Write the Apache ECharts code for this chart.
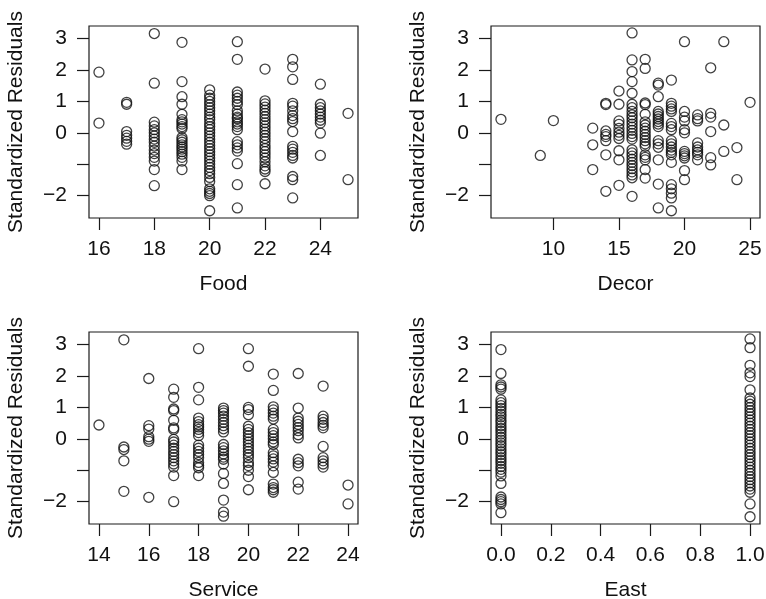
<!DOCTYPE html>
<html>
<head>
<meta charset="utf-8">
<script src="https://cdn.jsdelivr.net/npm/echarts@6/dist/echarts.min.js"></script>
<style>
html,body{margin:0;padding:0;background:#fff;}
#chart{width:766px;height:599px;}
</style>
</head>
<body>
<div id="chart"></div>
<script>
// Standardized residuals grouped by predictor value
const foodValues = [16,17,18,19,20,21,22,23,24,25];
const foodResid = [
  [1.93, 0.31],
  [0.97, 0.91, 0.04, -0.08, -0.17, -0.27, -0.36],
  [3.16, 1.58, 0.34, 0.22, 0.1, 0.0, -0.1, -0.2, -0.3, -0.42, -0.55, -0.66, -0.78, -0.9, -1.17, -1.68],
  [2.88, 1.63, 1.15, 0.91, 0.59, 0.42, 0.35, 0.28, 0.2, 0.14, -0.15, -0.22, -0.3, -0.38, -0.45, -0.52, -0.6, -0.68, -0.78, -0.9, -1.17],
  [1.37, 1.2, 1.1, 1.0, 0.9, 0.8, 0.7, 0.6, 0.5, 0.42, 0.3, 0.2, 0.1, 0.0, -0.1, -0.2, -0.3, -0.4, -0.5, -0.6, -0.7, -0.8, -0.9, -1.0, -1.1, -1.2, -1.3, -1.42, -1.55, -1.78, -1.86, -1.93, -2.0, -2.48],
  [2.9, 2.34, 1.3, 1.2, 1.1, 1.0, 0.9, 0.7, 0.6, 0.5, 0.45, 0.35, 0.28, 0.2, 0.1, -0.28, -0.38, -0.48, -0.58, -0.98, -1.65, -2.39],
  [2.03, 1.02, 0.92, 0.82, 0.72, 0.62, 0.52, 0.42, 0.32, 0.22, 0.12, 0.02, -0.08, -0.18, -0.28, -0.4, -0.5, -0.6, -0.7, -0.8, -0.92, -1.05, -1.15, -1.23, -1.62],
  [2.34, 2.1, 1.7, 0.94, 0.85, 0.7, 0.55, 0.45, 0.36, 0.04, -0.43, -0.52, -0.62, -0.72, -0.8, -1.39, -1.49, -2.07],
  [1.55, 0.91, 0.8, 0.7, 0.6, 0.5, 0.4, 0.31, -0.01, -0.72],
  [0.62, -1.49]
];

const decorValues = [6,9,10,13,14,15,16,17,18,19,20,21,22,23,24,25];
const decorResid = [
  [0.43],
  [-0.72],
  [0.39],
  [0.15, -0.38, -1.17],
  [0.94, 0.9, 0.06, -0.05, -0.12, -0.25, -0.7, -1.86],
  [1.33, 0.91, 0.38, 0.27, 0.14, 0.02, -0.08, -0.18, -0.57, -0.86, -1.67],
  [3.18, 2.32, 1.95, 1.63, 1.26, 0.91, 0.8, 0.68, 0.57, 0.48, 0.38, 0.28, 0.18, 0.08, -0.02, -0.12, -0.2, -0.54, -0.64, -0.74, -0.84, -0.94, -1.04, -1.14, -1.24, -1.34, -1.43, -2.02],
  [2.34, 2.05, 0.95, 0.9, 0.59, 0.35, 0.25, 0.15, 0.05, -0.05, -0.15, -0.25, -0.35, -0.43, -0.7, -0.78, -0.86, -1.17, -1.44],
  [1.58, 1.52, 1.15, 0.68, 0.6, 0.52, 0.44, 0.36, 0.28, 0.2, -0.25, -0.35, -0.46, -0.86, -1.63, -2.39],
  [1.68, 0.94, 0.85, 0.76, 0.68, 0.3, 0.2, 0.1, -0.25, -0.35, -0.45, -0.55, -0.62, -0.7, -0.94, -1.65, -1.78, -1.92, -2.07, -2.48],
  [2.9, 0.68, 0.5, 0.38, 0.1, 0.0, -0.59, -0.66, -0.73, -0.8, -1.2, -1.49],
  [0.57, 0.45, 0.38, -0.32, -0.45, -0.54, -0.62, -0.7, -0.86],
  [2.07, 0.62, 0.5, 0.04, -0.79, -1.02],
  [2.9, 0.25, -0.59],
  [-0.47, -1.49],
  [0.97]
];

const serviceValues = [14,15,16,17,18,19,20,21,22,23,24];
const serviceResid = [
  [0.44],
  [3.15, -0.26, -0.34, -0.7, -1.67],
  [1.92, 0.42, 0.31, 0.07, -0.01, -0.08, -1.86],
  [1.58, 1.32, 0.95, 0.9, 0.59, 0.35, 0.3, -0.02, -0.1, -0.2, -0.3, -0.4, -0.5, -0.6, -0.7, -0.8, -0.9, -1.17, -2.0],
  [2.87, 1.64, 1.24, 0.66, 0.55, 0.45, 0.38, 0.3, 0.2, 0.1, -0.2, -0.3, -0.4, -0.5, -0.6, -0.75, -0.85, -0.92, -1.17],
  [0.98, 0.9, 0.82, 0.72, 0.62, 0.52, 0.42, 0.32, 0.22, -0.18, -0.28, -0.38, -0.48, -0.58, -0.65, -0.8, -1.1, -1.42, -1.95, -2.33, -2.46],
  [2.87, 2.31, 1.0, 0.93, 0.77, 0.4, 0.3, 0.2, 0.1, 0.0, -0.1, -0.2, -0.3, -0.4, -0.5, -0.6, -0.75, -0.85, -1.0, -1.2, -1.62],
  [2.06, 1.54, 1.02, 0.92, 0.82, 0.72, 0.63, 0.3, 0.2, 0.1, 0.0, -0.1, -0.18, -0.44, -0.54, -0.64, -0.74, -0.86, -1.07, -1.44, -1.55, -1.62, -1.7],
  [2.08, 0.98, 0.66, 0.56, 0.46, 0.36, 0.26, 0.13, 0.03, -0.65, -0.76, -0.86, -1.38, -1.6],
  [1.68, 0.72, 0.62, 0.52, 0.43, 0.35, -0.24, -0.6, -0.7, -0.8, -0.9],
  [-1.47, -2.07]
];

const eastValues = [0, 1];
const eastResid = [
  [2.84, 2.08, 1.72, 1.65, 1.58, 1.24, 1.15, 1.06, 0.97, 0.88, 0.78, 0.7, 0.6, 0.52, 0.42, 0.33, 0.24, 0.15, 0.05, -0.04, -0.13, -0.22, -0.32, -0.41, -0.5, -0.6, -0.69, -0.78, -0.88, -0.97, -1.06, -1.18, -1.42, -1.85, -1.93, -2.0, -2.07, -2.35],
  [3.18, 2.9, 2.34, 2.1, 1.98, 1.56, 1.3, 1.2, 1.1, 1.0, 0.9, 0.8, 0.7, 0.6, 0.5, 0.4, 0.3, 0.2, 0.1, 0.0, -0.1, -0.2, -0.3, -0.4, -0.5, -0.6, -0.7, -0.8, -0.9, -1.0, -1.1, -1.2, -1.3, -1.4, -1.5, -1.6, -1.7, -2.07, -2.48]
];

const foodTicks = [16, 18, 20, 22, 24];
const decorTicks = [10, 15, 20, 25];
const serviceTicks = [14, 16, 18, 20, 22, 24];
const eastTicks = [0, 0.2, 0.4, 0.6, 0.8, 1.0];
const residTicks = [-2, -1, 0, 1, 2, 3];
const residLabels = [-2, 0, 1, 2, 3];

const xNames = ['Food', 'Decor', 'Service', 'East'];
const yName = 'Standardized Residuals';

function toPoints(values, groups) {
  const pts = [];
  values.forEach((v, i) => groups[i].forEach(r => pts.push([v, r])));
  return pts;
}

const FONT = 'Liberation Sans, Arial, sans-serif';
const FS = 21;
const grids = [
  {left: 89, top: 26, width: 269, height: 192},
  {left: 491, top: 26, width: 269, height: 192},
  {left: 89, top: 332, width: 269, height: 192},
  {left: 491, top: 332, width: 269, height: 192}
].map(g => Object.assign({show: true, borderColor: '#1a1a1a', borderWidth: 1.2, backgroundColor: 'transparent', containLabel: false, outerBoundsMode: 'none'}, g));

const xRanges = [[15.64, 25.36], [5.24, 25.76], [13.6, 24.4], [-0.04, 1.04]];
const xTicks = [foodTicks, decorTicks, serviceTicks, eastTicks];

const fmtNum = v => (v < 0 ? '\u2212' + Math.abs(v) : String(v));

const xAxes = xRanges.map((r, i) => ({
  gridIndex: i, type: 'value', min: r[0], max: r[1], position: 'bottom',
  axisLine: {show: false, onZero: false},
  axisTick: {show: true, length: 12, lineStyle: {color: '#1a1a1a', width: 1.2}, customValues: xTicks[i]},
  axisLabel: {customValues: xTicks[i], margin: 21, fontSize: FS, fontFamily: FONT, color: '#111',
    formatter: i === 3 ? (v => Number(v).toFixed(1)) : fmtNum},
  splitLine: {show: false},
  name: xNames[i], nameLocation: 'middle', nameGap: 56,
  nameTextStyle: {fontSize: FS, fontFamily: FONT, color: '#111'}
}));

const yAxes = [0, 1, 2, 3].map(i => ({
  gridIndex: i, type: 'value', min: -2.71, max: 3.40, position: 'left',
  axisLine: {show: false, onZero: false},
  axisTick: {show: true, length: 12, lineStyle: {color: '#1a1a1a', width: 1.2}, customValues: residTicks},
  axisLabel: {customValues: residLabels, margin: 22, fontSize: FS, fontFamily: FONT, color: '#111', formatter: fmtNum},
  splitLine: {show: false},
  name: yName, nameLocation: 'middle', nameGap: 62, nameRotate: 90,
  nameTextStyle: {fontSize: FS, fontFamily: FONT, color: '#111'}
}));

const allData = [
  toPoints(foodValues, foodResid),
  toPoints(decorValues, decorResid),
  toPoints(serviceValues, serviceResid),
  toPoints(eastValues, eastResid)
];

const series = allData.map((d, i) => ({
  type: 'scatter', xAxisIndex: i, yAxisIndex: i, data: d,
  symbol: 'circle', symbolSize: 10,
  itemStyle: {color: 'rgba(0,0,0,0)', borderColor: '#111', borderWidth: 1.3},
  emphasis: {disabled: true}, silent: true
}));

const chart = echarts.init(document.getElementById('chart'), null, {renderer: 'canvas'});
chart.setOption({
  animation: false,
  backgroundColor: '#fff',
  grid: grids, xAxis: xAxes, yAxis: yAxes, series: series
});
</script>
</body>
</html>
